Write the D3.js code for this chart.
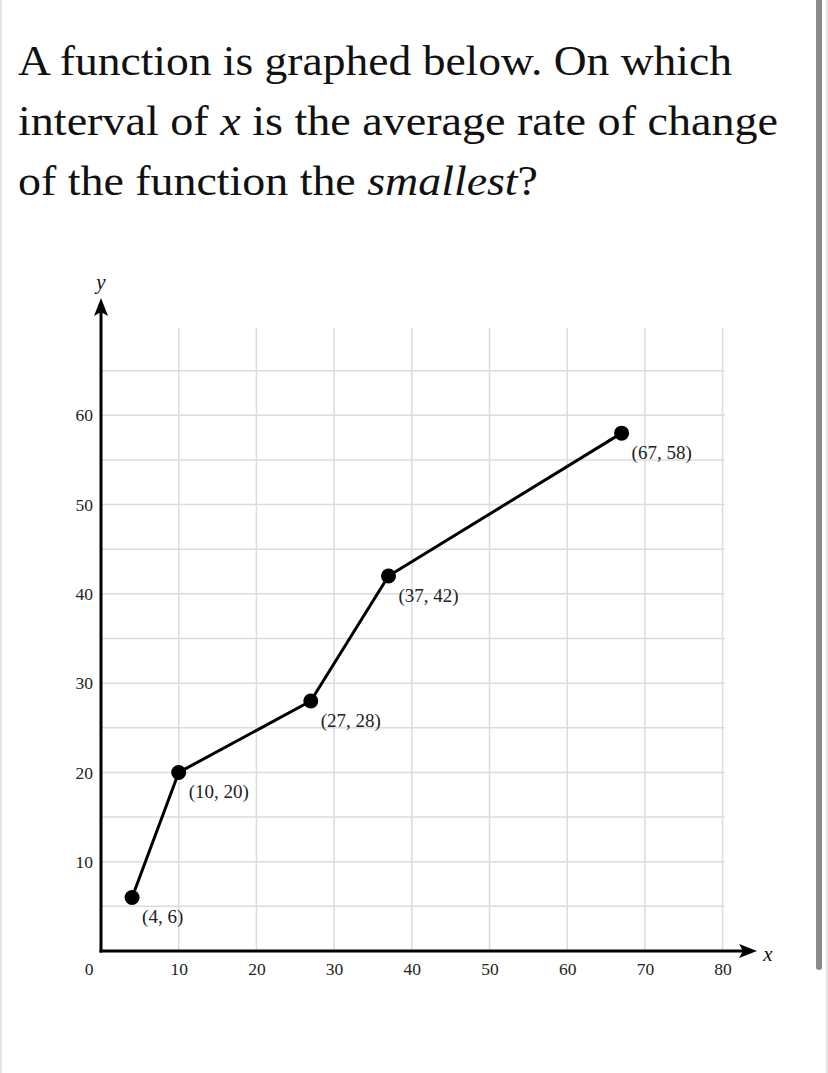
<!DOCTYPE html>
<html>
<head>
<meta charset="utf-8">
<script src="https://cdn.jsdelivr.net/npm/d3@7"></script>
<style>
  html, body { margin: 0; padding: 0; background: #fff; }
  svg { display: block; }
</style>
</head>
<body>
<svg id="chart" width="828" height="1073"></svg>
<script>
// ---- data ----
const pointX = [4, 10, 27, 37, 67];
const pointY = [6, 20, 28, 42, 58];
const pointLabels = ["(4, 6)", "(10, 20)", "(27, 28)", "(37, 42)", "(67, 58)"];
const xTicks = [10, 20, 30, 40, 50, 60, 70, 80];
const yTicks = [10, 20, 30, 40, 50, 60];
const xGrid = [10, 20, 30, 40, 50, 60, 70, 80];
const yGrid = [5, 10, 15, 20, 25, 30, 35, 40, 45, 50, 55, 60, 65];
const titleLines = [
  [{t: "A function is graphed below. On which"}],
  [{t: "interval of "}, {t: "x", it: true}, {t: " is the average rate of change"}],
  [{t: "of the function the "}, {t: "smallest", it: true}, {t: "?"}]
];

const serif = "'Liberation Serif', 'DejaVu Serif', serif";
const svg = d3.select("#chart");

// page decor
svg.append("rect").attr("x", 0).attr("y", 0).attr("width", 2).attr("height", 1073).attr("fill", "#e4e4e4");
svg.append("rect").attr("x", 826).attr("y", 0).attr("width", 2).attr("height", 1073).attr("fill", "#e4e4e4");
svg.append("rect").attr("x", 816).attr("y", -4).attr("width", 6).attr("height", 974).attr("rx", 3).attr("fill", "#8a8a8a");

// title
const lineWidths = [714, 760, 520];
titleLines.forEach((parts, i) => {
  const t = svg.append("text")
    .attr("x", 18).attr("y", 75 + i * 60)
    .attr("font-family", serif).attr("font-size", 42).attr("fill", "#111")
    .attr("textLength", lineWidths[i]).attr("lengthAdjust", "spacingAndGlyphs");
  parts.forEach(p => {
    t.append("tspan").text(p.t)
      .attr("font-style", p.it ? "italic" : null);
  });
});

// scales
const x = d3.scaleLinear().domain([0, 80]).range([101, 722.6]);
const y = d3.scaleLinear().domain([0, 70]).range([951, 326]);

// grid
const grid = svg.append("g").attr("stroke", "#dcdcdc").attr("stroke-width", 1.5);
grid.selectAll("line.v").data(xGrid).join("line")
  .attr("x1", d => x(d)).attr("x2", d => x(d))
  .attr("y1", y(0)).attr("y2", y(69.8));
grid.selectAll("line.h").data(yGrid).join("line")
  .attr("y1", d => y(d)).attr("y2", d => y(d))
  .attr("x1", x(0)).attr("x2", x(80.3));

// axes via d3 axis generators (styled)
const xAxis = d3.axisBottom(x).tickValues(xTicks).tickSize(0).tickPadding(12);
const yAxis = d3.axisLeft(y).tickValues(yTicks).tickSize(0).tickPadding(8);

const gx = svg.append("g").attr("transform", `translate(0,${y(0)})`).call(xAxis);
gx.select(".domain").remove();
gx.selectAll("text").attr("font-family", serif).attr("font-size", 17.5).attr("fill", "#222");

const gy = svg.append("g").attr("transform", `translate(${x(0)},0)`).call(yAxis);
gy.select(".domain").remove();
gy.selectAll("text").attr("font-family", serif).attr("font-size", 17.5).attr("fill", "#222");

svg.append("text").attr("x", 89).attr("y", y(0) + 24).attr("text-anchor", "middle")
  .attr("font-family", serif).attr("font-size", 17.5).attr("fill", "#222").text("0");

// axis lines with arrows
const axisG = svg.append("g");
axisG.append("line").attr("x1", x(0) - 1.5).attr("x2", 745).attr("y1", y(0)).attr("y2", y(0))
  .attr("stroke", "#000").attr("stroke-width", 3);
axisG.append("line").attr("x1", x(0)).attr("x2", x(0)).attr("y1", y(0) + 1.5).attr("y2", 310)
  .attr("stroke", "#000").attr("stroke-width", 3);
// x arrowhead
const xt = 757, yc = y(0);
axisG.append("path")
  .attr("d", `M${xt},${yc} L${xt - 18},${yc - 7} L${xt - 14},${yc} L${xt - 18},${yc + 7} Z`)
  .attr("fill", "#000");
const yt = 298, xc = x(0);
axisG.append("path")
  .attr("d", `M${xc},${yt} L${xc - 7},${yt + 18} L${xc},${yt + 14} L${xc + 7},${yt + 18} Z`)
  .attr("fill", "#000");

svg.append("text").attr("x", 768).attr("y", 961).attr("text-anchor", "middle")
  .attr("font-family", serif).attr("font-style", "italic").attr("font-size", 21).attr("fill", "#111").text("x");
svg.append("text").attr("x", x(0)).attr("y", 289).attr("text-anchor", "middle")
  .attr("font-family", serif).attr("font-style", "italic").attr("font-size", 21).attr("fill", "#111").text("y");

// function line
const pts = pointX.map((d, i) => [d, pointY[i]]);
svg.append("path").datum(pts)
  .attr("d", d3.line().x(d => x(d[0])).y(d => y(d[1])))
  .attr("fill", "none").attr("stroke", "#000").attr("stroke-width", 3)
  .attr("stroke-linejoin", "round");

svg.selectAll("circle.pt").data(pts).join("circle")
  .attr("cx", d => x(d[0])).attr("cy", d => y(d[1])).attr("r", 7.5).attr("fill", "#000");

svg.selectAll("text.pl").data(pts).join("text")
  .attr("x", d => x(d[0]) + 10).attr("y", d => y(d[1]) + 26)
  .attr("font-family", serif).attr("font-size", 19).attr("fill", "#222")
  .text((d, i) => pointLabels[i]);
</script>
</body>
</html>
